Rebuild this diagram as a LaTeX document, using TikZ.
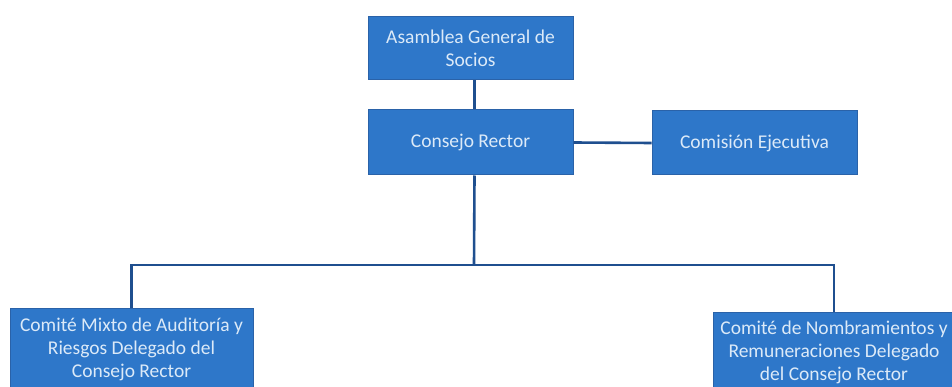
\documentclass[tikz,border=0pt]{standalone}
\usepackage{fontspec}
\setmainfont{Carlito}
\definecolor{cajaazul}{HTML}{2E77C9}
\definecolor{bordeazul}{HTML}{2A62A8}
\definecolor{lineaazul}{HTML}{1F4F8F}
\definecolor{textoazul}{HTML}{DCEAF8}
\begin{document}
\begin{tikzpicture}[x=1pt,y=-1pt,
  caja/.style={draw=bordeazul, fill=cajaazul, line width=1pt, text=textoazul, align=center,
    font=\fontsize{19.5}{23}\selectfont, inner sep=1pt},
  linea/.style={draw=lineaazul, line width=2.6pt}]
\useasboundingbox[fill=white] (0,0) rectangle (952,387);
% cajas
\node[caja, minimum width=205pt, minimum height=63pt] (asamblea) at (470.5,48.5) {Asamblea General de\\Socios};
\node[caja, minimum width=205pt, minimum height=65pt] (consejo) at (470.5,142.5) {Consejo Rector};
\node[caja, minimum width=205pt, minimum height=64pt] (comision) at (754.5,143) {Comisión Ejecutiva};
\node[caja, minimum width=243pt, minimum height=82pt] (mixto) at (131.5,349) {Comité Mixto de Auditoría y\\Riesgos Delegado del\\Consejo Rector};
\node[caja, minimum width=242pt, minimum height=80pt] (nombra) at (834,352) {Comité de Nombramientos y\\Remuneraciones Delegado\\del Consejo Rector};
\coordinate (bus) at (474,265);
% conexiones
\draw[linea] ([xshift=4pt]asamblea.south) -- ([xshift=4pt]consejo.north);
\draw[linea] (consejo.east) -- (comision.west);
\draw[linea] ([xshift=4pt]consejo.south) -- (bus);
\draw[linea] (bus) -| (mixto.north);
\draw[linea] (bus) -| (nombra.north);
\end{tikzpicture}
\end{document}
